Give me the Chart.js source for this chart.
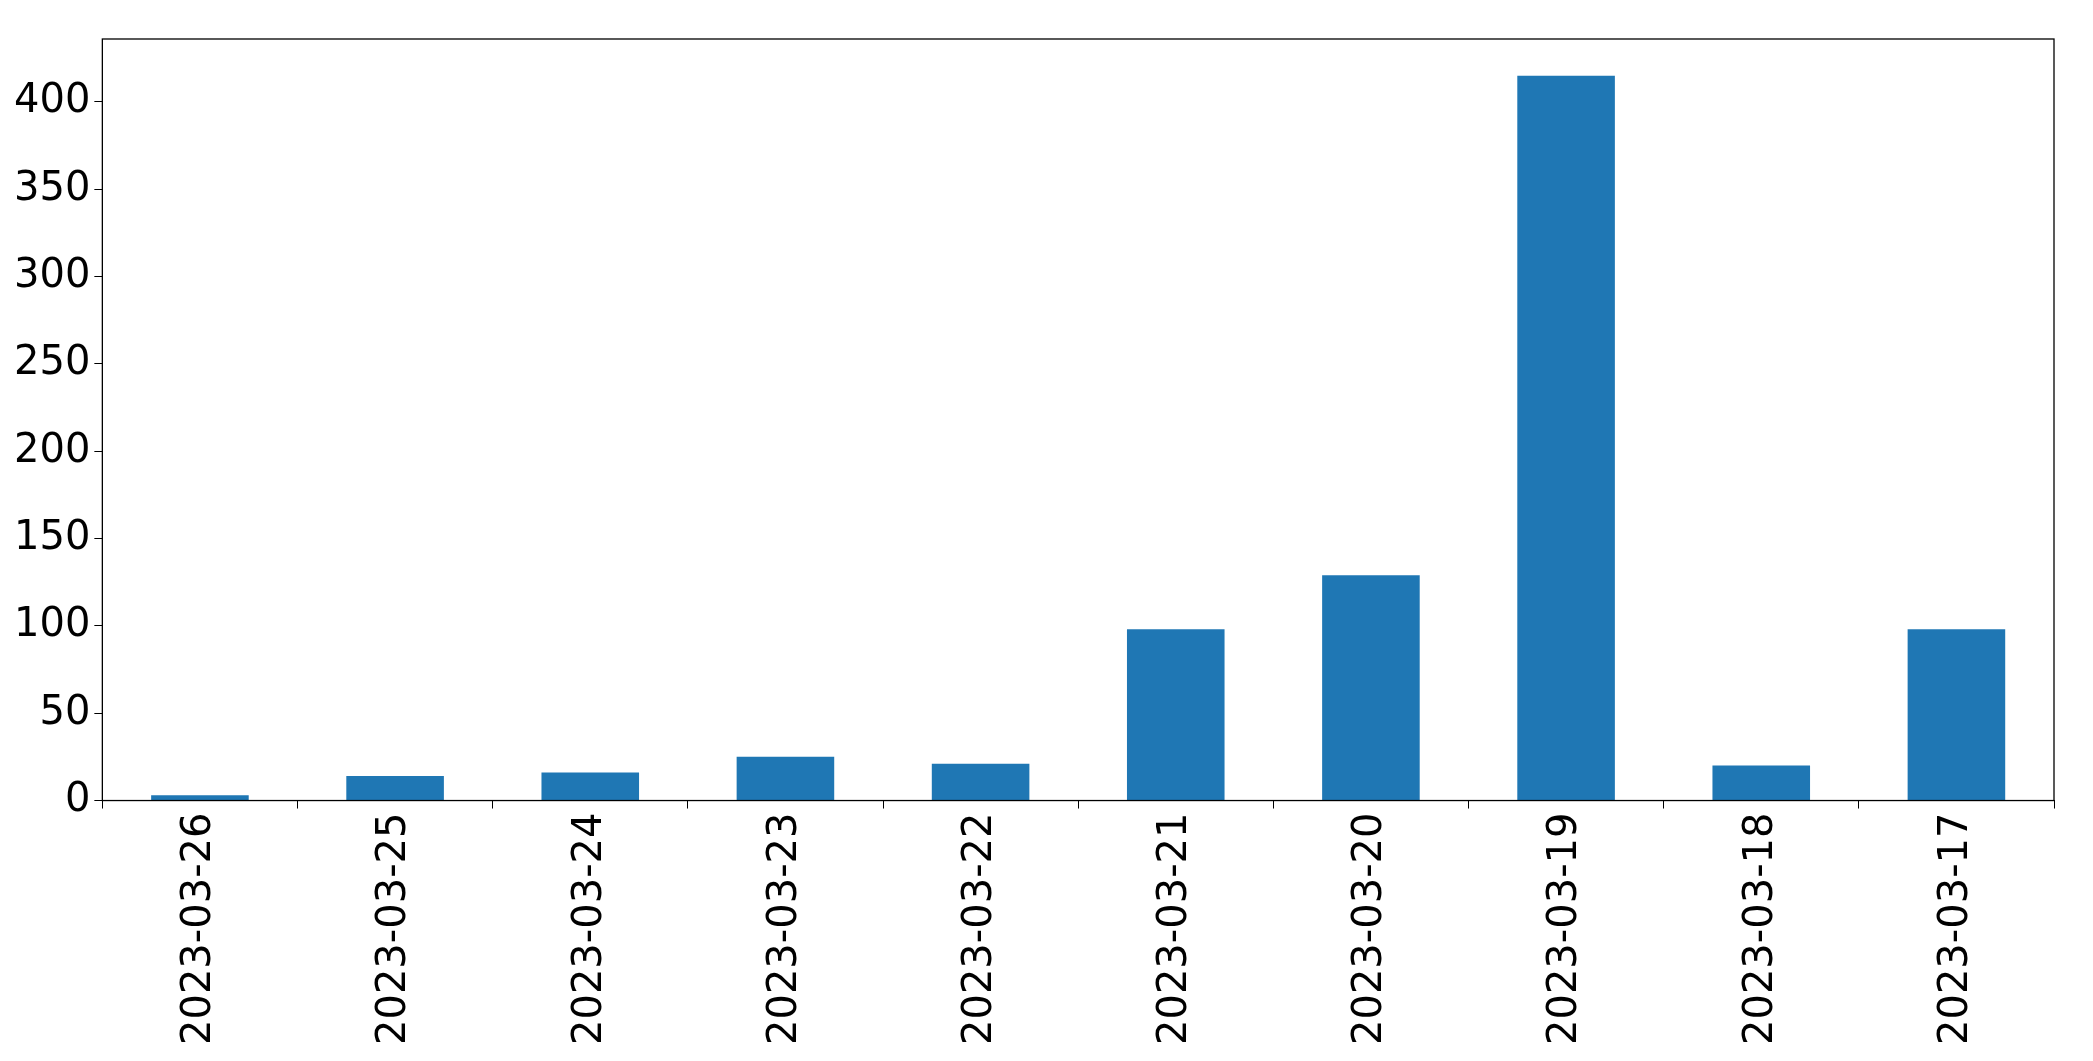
<!DOCTYPE html>
<html><head><meta charset="utf-8">
<script src="https://cdn.jsdelivr.net/npm/chart.js@4"></script>
<style>html,body{margin:0;padding:0;background:#fff}#w{width:2093px;height:1061px}</style>
</head><body><div id="w"><canvas id="c"></canvas></div>
<script>
const categories=["2023-03-26","2023-03-25","2023-03-24","2023-03-23","2023-03-22","2023-03-21","2023-03-20","2023-03-19","2023-03-18","2023-03-17"];
const values=[3,14,16,25,21,98,129,415,20,98];
const yTicks=[0,50,100,150,200,250,300,350,400];
const frame={id:'frame',afterDraw(ch){const a=ch.chartArea,x=ch.ctx;x.save();x.strokeStyle='#000';x.lineWidth=1.3;x.strokeRect(a.left,a.top,a.right-a.left,a.bottom-a.top);x.restore();}};
new Chart(document.getElementById('c'),{type:'bar',
data:{labels:categories,datasets:[{data:values,backgroundColor:'#1f77b4',categoryPercentage:1,barPercentage:0.5}]},
options:{responsive:true,maintainAspectRatio:false,animation:false,
layout:{padding:{left:10,right:39,top:39,bottom:12}},
plugins:{legend:{display:false},tooltip:{enabled:false}},
scales:{
x:{grid:{drawOnChartArea:false,drawTicks:true,tickLength:8,color:'#000'},border:{color:'#000'},ticks:{color:'#000',font:{family:'DejaVu Sans',size:40},maxRotation:90,minRotation:90,padding:4}},
y:{min:0,max:436,afterBuildTicks(s){s.ticks=yTicks.map(v=>({value:v}));},grid:{drawOnChartArea:false,drawTicks:true,tickLength:8,color:'#000'},border:{color:'#000'},ticks:{color:'#000',font:{family:'DejaVu Sans',size:40},padding:4}}
}},plugins:[frame]});
</script></body></html>
